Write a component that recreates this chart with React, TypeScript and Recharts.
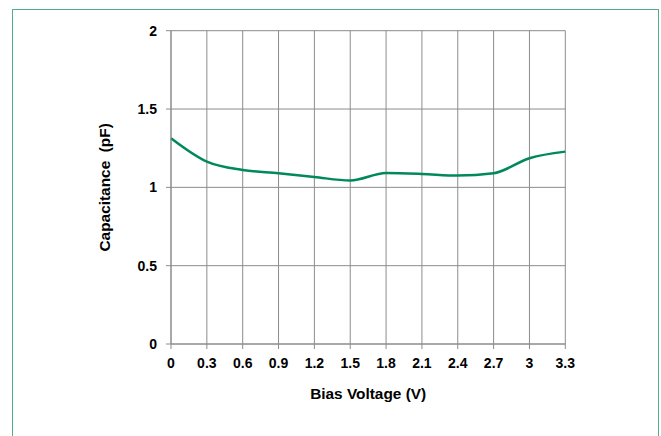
import React from 'react';
import { LineChart, Line, XAxis, YAxis, CartesianGrid } from 'recharts';

const voltages = [0, 0.3, 0.6, 0.9, 1.2, 1.5, 1.8, 2.1, 2.4, 2.7, 3.0, 3.3];
const capacitance = [1.313, 1.164, 1.111, 1.09, 1.066, 1.044, 1.092, 1.086, 1.075, 1.09, 1.186, 1.228];
const xTicks = [0, 0.3, 0.6, 0.9, 1.2, 1.5, 1.8, 2.1, 2.4, 2.7, 3, 3.3];
const yTicks = [0, 0.5, 1, 1.5, 2];

const data = voltages.map((v, i) => ({ v, c: capacitance[i] }));

const font = '"Liberation Sans", Arial, sans-serif';
const tickStyle = { fontFamily: font, fontSize: 14, fontWeight: 700, fill: '#000' };

export default function App() {
  return (
    <div style={{ position: 'absolute', left: 0, top: 0, width: 661, height: 436, overflow: 'hidden', background: '#fff' }}>
      <div style={{ position: 'absolute', left: 12, top: 9, width: 645, height: 460, border: '1.5px solid #4DAF87' }} />
      <div style={{ position: 'absolute', left: 0, top: 0 }}>
        <LineChart width={661} height={436} data={data} margin={{ top: 30.7, right: 95.7, bottom: 62, left: 39 }}>
          <CartesianGrid stroke="#8c8c8c" strokeWidth={1} />
          <XAxis
            dataKey="v"
            type="number"
            domain={[0, 3.3]}
            ticks={xTicks}
            interval={0}
            height={30}
            tickSize={5}
            tickMargin={9}
            stroke="#8c8c8c"
            tick={tickStyle}
            tickFormatter={(t: number) => String(Math.round(t * 10) / 10)}
            label={{ value: 'Bias Voltage (V)', position: 'bottom', offset: 13.7, style: { fontFamily: font, fontSize: 15.4, fontWeight: 700, fill: '#000' } }}
          />
          <YAxis
            type="number"
            domain={[0, 2]}
            ticks={yTicks}
            interval={0}
            width={132}
            tickSize={5}
            tickMargin={9}
            stroke="#8c8c8c"
            tick={tickStyle}
            label={{ value: 'Capacitance\u00a0\u00a0(pF)', angle: -90, position: 'center', style: { fontFamily: font, fontSize: 15.4, fontWeight: 700, fill: '#000', textAnchor: 'middle' } }}
          />
          <Line
            type="monotone"
            dataKey="c"
            stroke="#00895A"
            strokeWidth={2.5}
            dot={false}
            isAnimationActive={false}
          />
        </LineChart>
      </div>
    </div>
  );
}
